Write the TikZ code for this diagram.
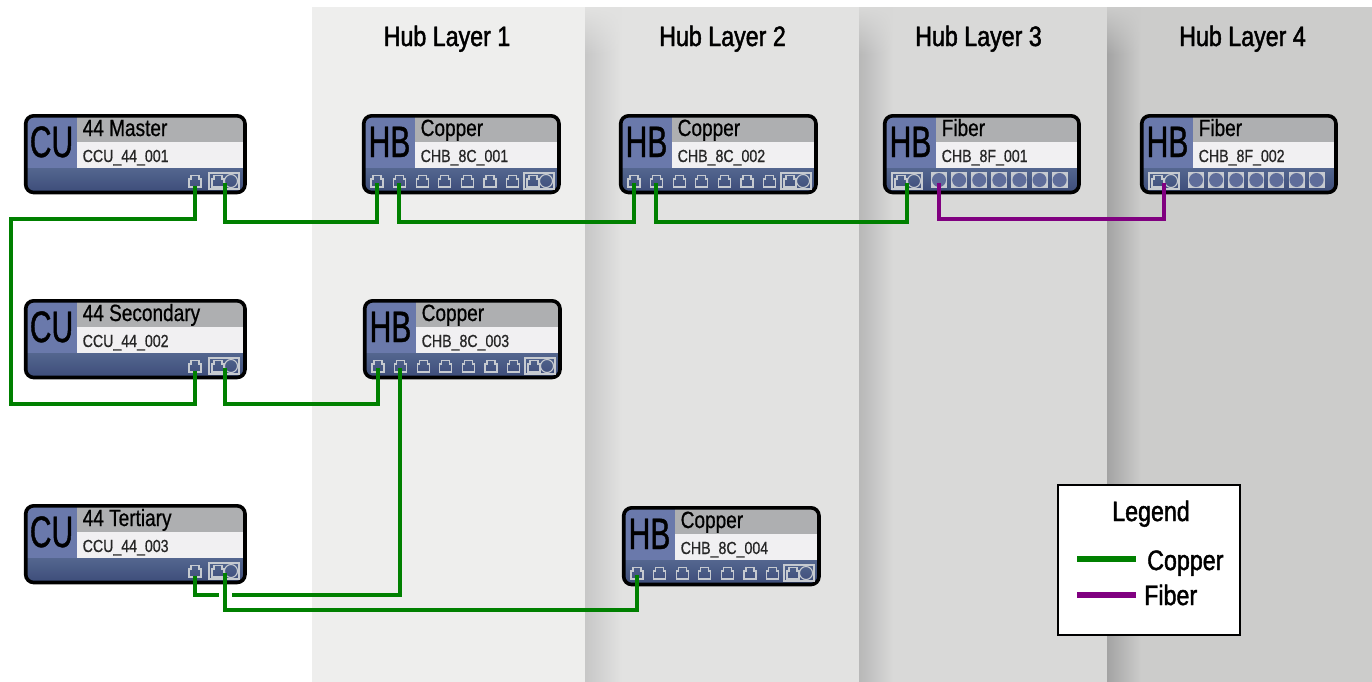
\documentclass[tikz,border=0pt]{standalone}
\usepackage{fontspec}
\setmainfont[FakeStretch=0.81,FakeBold=0.7]{Liberation Sans}
\newfontfamily\tagfont[FakeStretch=0.68,FakeBold=1]{Liberation Sans}
\newfontfamily\layerfont[FakeStretch=0.83,FakeBold=1.6]{Liberation Sans}
\usetikzlibrary{fadings}

\definecolor{bandA}{HTML}{EEEEED}
\definecolor{bandB}{HTML}{E2E2E1}
\definecolor{bandC}{HTML}{D9D9D8}
\definecolor{bandD}{HTML}{CCCCCB}
\definecolor{tagblue}{HTML}{6A79AB}
\definecolor{stripTop}{HTML}{54668F}
\definecolor{stripLow}{HTML}{3C4C79}
\definecolor{titlegray}{HTML}{AEAFB1}
\definecolor{idwhite}{HTML}{F1F0F2}
\definecolor{portgray}{HTML}{C6CAD0}
\definecolor{copperline}{HTML}{008000}
\definecolor{fiberline}{HTML}{800080}

\tikzset{
    portline/.style={draw=portgray, line width=1.1pt},
    titletext/.style={anchor=base west, inner sep=0pt, font=\fontsize{23.5}{24}\selectfont},
    idtext/.style={anchor=base west, inner sep=0pt, font=\fontsize{17.5}{18}\selectfont, text=black!85},
    tagtext/.style={anchor=base, inner sep=0pt, font=\tagfont\fontsize{44}{45}\selectfont},
    layertext/.style={anchor=base, inner sep=0pt, font=\layerfont\fontsize{28}{29}\selectfont},
    copperwire/.style={draw=copperline, line width=4pt},
    fiberwire/.style={draw=fiberline, line width=4pt}
}

% Copper port, dual port and fiber port icons
\newcommand{\rjport}[2]{
    \draw[portline] (#1-6,#2+6) -- (#1-6,#2-2) -- (#1-4,#2-2) -- (#1-4,#2-5.5) -- (#1+4,#2-5.5)
        -- (#1+4,#2-2) -- (#1+6,#2-2) -- (#1+6,#2+6) -- cycle;
}
\newcommand{\dualport}[2]{
    \draw[portline] (#1-15,#2-8) rectangle (#1+15,#2+8);
    \rjport{#1-6}{#2}
    \draw[portline] (#1+7,#2) circle (6.5);
}
\newcommand{\fiberport}[2]{
    \fill[portgray] (#1-8,#2-8) rectangle (#1+8,#2+8);
    \fill[tagblue!90!black] (#1,#2) circle (7);
}

% Body of a unit: name, x, y, width, tag, title, id
\newcommand{\unitbody}[7]{
    \begin{scope}[shift={(#2,#3)}]
        \begin{scope}
            \clip[rounded corners=8] (0.7,0.8) rectangle (#4-1,77.5);
            \fill[tagblue] (0,0) rectangle (52,54);
            \fill[titlegray] (52,0) rectangle (#4,27);
            \fill[idwhite] (52,27) rectangle (#4,53);
            \shade[top color=stripTop, bottom color=stripLow] (0,53) rectangle (#4,78);
        \end{scope}
        \draw[black, line width=3.6pt, rounded corners=8] (0.7,0.8) rectangle (#4-1,77.5);
        \node[tagtext] (#1-tag) at (26.5,42) {#5};
        \node[titletext] (#1-title) at (57.5,21) {#6};
        \node[idtext] (#1-id) at (57.5,47) {#7};
    \end{scope}
}

% Central unit with copper port and dual port
\newcommand{\cuunit}[5]{
    \unitbody{#1}{#2}{#3}{221}{CU}{#4}{#5}
    \begin{scope}[shift={(#2,#3)}]
        \rjport{170}{66}
        \dualport{199}{66}
        \coordinate (#1-p1) at (170,71);
        \coordinate (#1-dual) at (200,68);
    \end{scope}
}

% Copper hub, seven ports and the dual port on the right
\newcommand{\copperhub}[5]{
    \unitbody{#1}{#2}{#3}{197}{HB}{#4}{#5}
    \begin{scope}[shift={(#2,#3)}]
        \foreach \n in {0,...,6} {
            \rjport{14+22.6*\n}{66}
        }
        \dualport{176}{66}
        \coordinate (#1-p1) at (14,68);
        \coordinate (#1-p2) at (36,68);
    \end{scope}
}

% Fiber hub, dual port on the left and seven fiber ports
\newcommand{\fiberhub}[5]{
    \unitbody{#1}{#2}{#3}{196}{HB}{#4}{#5}
    \begin{scope}[shift={(#2,#3)}]
        \dualport{23}{66}
        \foreach \n in {0,...,6} {
            \fiberport{55+20.1*\n}{65}
        }
        \coordinate (#1-dual) at (23,68);
        \coordinate (#1-p1) at (55,68);
    \end{scope}
}

\begin{document}
\begin{tikzpicture}[x=1pt, y=-1pt]

    \useasboundingbox (0,0) rectangle (1372,681);

    % Layer bands
    \fill[bandA] (312,7) rectangle (585,682);
    \fill[bandB] (585,7) rectangle (859,682);
    \fill[bandC] (859,7) rectangle (1107,682);
    \fill[bandD] (1107,7) rectangle (1372,682);

    % Soft edge on the left of each band
    \shade[left color=black!22, right color=bandB] (585,7) rectangle (622,682);
    \fill[bandB, path fading=south] (585,7) rectangle (622,55);
    \shade[left color=black!28, right color=bandC] (859,7) rectangle (893,682);
    \fill[bandC, path fading=south] (859,7) rectangle (893,55);
    \shade[left color=black!36, right color=bandD] (1107,7) rectangle (1141,682);
    \fill[bandD, path fading=south] (1107,7) rectangle (1141,55);

    % Layer titles
    \node[layertext] (layer1) at (447,46) {Hub Layer 1};
    \node[layertext] (layer2) at (722.5,46) {Hub Layer 2};
    \node[layertext] (layer3) at (978.5,46) {Hub Layer 3};
    \node[layertext] (layer4) at (1242.5,46) {Hub Layer 4};

    % Units
    \cuunit{cu1}{25}{115}{44 Master}{CCU\_44\_001}
    \cuunit{cu2}{25}{300}{44 Secondary}{CCU\_44\_002}
    \cuunit{cu3}{25}{505}{44 Tertiary}{CCU\_44\_003}
    \copperhub{hb1}{363}{115}{Copper}{CHB\_8C\_001}
    \copperhub{hb2}{620}{115}{Copper}{CHB\_8C\_002}
    \copperhub{hb3}{364}{300}{Copper}{CHB\_8C\_003}
    \copperhub{hb4}{623}{507}{Copper}{CHB\_8C\_004}
    \fiberhub{fh1}{884}{115}{Fiber}{CHB\_8F\_001}
    \fiberhub{fh2}{1141}{115}{Fiber}{CHB\_8F\_002}

    % Copper runs
    \draw[copperwire] (cu1-p1) |- (11,219) -- (11,404) -| (cu2-p1);
    \draw[copperwire] (cu1-dual) |- (300,222) -| (hb1-p1);
    \draw[copperwire] (hb1-p2) |- (500,222) -| (hb2-p1);
    \draw[copperwire] (hb2-p2) |- (800,222) -| (fh1-dual);
    \draw[copperwire] (cu2-dual) |- (300,404) -| (hb3-p1);
    \coordinate (gapleft) at (219,595);
    \coordinate (gapright) at (232,595);
    \draw[copperwire] (cu3-p1) |- (gapleft);
    \draw[copperwire] (gapright) -| (hb3-p2);
    \draw[copperwire] (cu3-dual) |- (500,610) -| (hb4-p1);

    % Fiber run
    \draw[fiberwire] (fh1-p1) |- (1050,219) -| (fh2-dual);

    % Legend
    \draw[black, fill=white, line width=2pt] (1058,485) rectangle (1240,635);
    \node[layertext] (legendtitle) at (1151,521) {Legend};
    \coordinate (copperstart) at (1077,559);
    \coordinate (copperend) at (1136,559);
    \coordinate (fiberstart) at (1077,595);
    \coordinate (fiberend) at (1136,595);
    \draw[copperwire, line width=5.5pt] (copperstart) -- (copperend);
    \draw[fiberwire, line width=5.5pt] (fiberstart) -- (fiberend);
    \node[layertext, anchor=base west] (coppertext) at (1147,570) {Copper};
    \node[layertext, anchor=base west] (fibertext) at (1144,605) {Fiber};

\end{tikzpicture}
\end{document}
